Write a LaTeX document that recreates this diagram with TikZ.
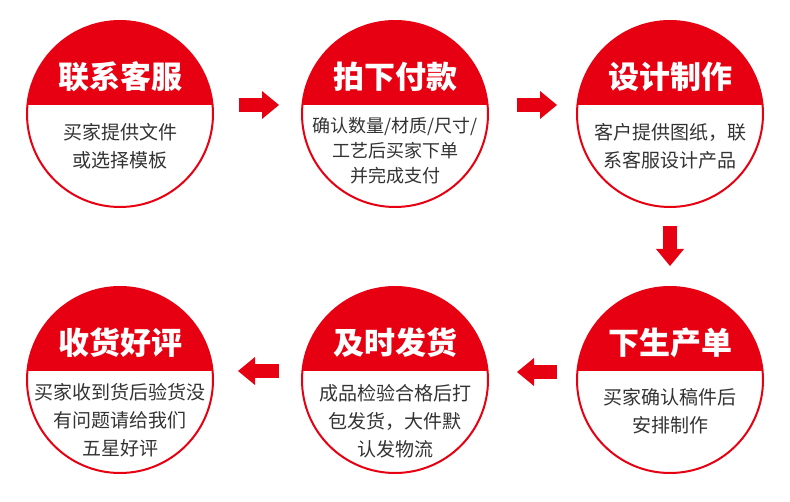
\documentclass[tikz,border=0pt]{standalone}
\usepackage{fontspec}
\newfontfamily\cjk{Noto Sans CJK SC}
\usetikzlibrary{arrows.meta}
\definecolor{myred}{HTML}{E60012}
\definecolor{txtgray}{HTML}{333333}
\tikzset{
  ring/.style={circle, draw=myred, line width=2pt, minimum size=186pt, inner sep=0pt},
  ttl/.style={text=white, inner sep=0pt, font=\cjk\bfseries\fontsize{31}{31}\selectfont},
  bodytxt/.style={text=txtgray, inner sep=0pt, align=center, font=\cjk\fontsize{19}{28}\selectfont},
  bodysmall/.style={bodytxt, font=\cjk\fontsize{18}{25}\selectfont},
  blockarrow/.style={draw=myred, line width=14pt, -{Triangle[length=17pt,width=28pt,line width=0pt]}},
}
\begin{document}
\begin{tikzpicture}[x=1pt,y=-1pt]
\useasboundingbox[fill=white] (0,0) rectangle (790,502);
% caps
\begin{scope}\clip (120,114) circle[radius=93pt]; \fill[myred] (0,0) rectangle (300,105);\end{scope}
\begin{scope}\clip (395,114) circle[radius=93pt]; \fill[myred] (280,0) rectangle (520,105);\end{scope}
\begin{scope}\clip (670,114) circle[radius=93pt]; \fill[myred] (560,0) rectangle (790,105);\end{scope}
\begin{scope}\clip (120,380) circle[radius=93pt]; \fill[myred] (0,260) rectangle (300,371);\end{scope}
\begin{scope}\clip (395,380) circle[radius=93pt]; \fill[myred] (280,260) rectangle (520,371);\end{scope}
\begin{scope}\clip (670,380) circle[radius=93pt]; \fill[myred] (560,260) rectangle (790,371);\end{scope}
% rings
\node[ring] (c1) at (120,114) {};
\node[ring] (c2) at (395,114) {};
\node[ring] (c3) at (670,114) {};
\node[ring] (c4) at (120,380) {};
\node[ring] (c5) at (395,380) {};
\node[ring] (c6) at (670,380) {};
% titles
\node[ttl] (t1) at (120,77) {联系客服};
\node[ttl] (t2) at (395,77) {拍下付款};
\node[ttl] (t3) at (670,77) {设计制作};
\node[ttl] (t4) at (120,343) {收货好评};
\node[ttl] (t5) at (395,343) {及时发货};
\node[ttl] (t6) at (670,343) {下生产单};
% bodies
\node[bodytxt] (b1) at (120,146) {买家提供文件\\或选择模板};
\node[bodysmall] (b2) at (395,151) {确认数量/材质/尺寸/\\工艺后买家下单\\并完成支付};
\node[bodytxt] (b3) at (670,146) {客户提供图纸，联\\系客服设计产品};
\node[bodytxt] (b4) at (120,420) {买家收到货后验货没\\有问题请给我们\\五星好评};
\node[bodytxt] (b5) at (395,421) {成品检验合格后打\\包发货，大件默\\认发物流};
\node[bodytxt] (b6) at (670,411) {买家确认稿件后\\安排制作};
% arrows
\coordinate (a1s) at (239,105); \coordinate (a1e) at (279,105);
\coordinate (a2s) at (517,105); \coordinate (a2e) at (557,105);
\coordinate (a3s) at (670,226); \coordinate (a3e) at (670,266);
\coordinate (a4s) at (557,372); \coordinate (a4e) at (517,372);
\coordinate (a5s) at (279,371); \coordinate (a5e) at (238,371);
\draw[blockarrow] (a1s) -- (a1e);
\draw[blockarrow] (a2s) -- (a2e);
\draw[blockarrow] (a3s) -- (a3e);
\draw[blockarrow] (a4s) -- (a4e);
\draw[blockarrow] (a5s) -- (a5e);
\end{tikzpicture}
\end{document}
